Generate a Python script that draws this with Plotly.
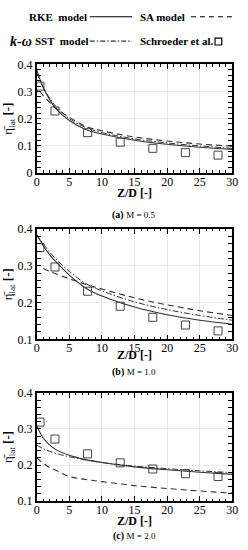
import plotly.graph_objects as go

# ---------------- data ----------------
z_model = [0, 0.5, 1, 2, 3, 5, 7.5, 10, 15, 20, 25, 30]
z_exp = [0.5, 2.8, 7.8, 12.8, 17.8, 22.8, 27.8]

# M = 0.5
rke_a = [0.38, 0.345, 0.315, 0.27, 0.235, 0.193, 0.16, 0.143, 0.12, 0.105, 0.094, 0.086]
sst_a = [0.37, 0.34, 0.315, 0.275, 0.243, 0.2, 0.167, 0.148, 0.125, 0.11, 0.099, 0.09]
z_sa_a = [0.5, 1, 2, 3, 5, 7.5, 10, 15, 20, 25, 30]
sa_a = [0.3, 0.285, 0.26, 0.238, 0.205, 0.172, 0.155, 0.132, 0.117, 0.106, 0.098]
exp_a = [0.32, 0.228, 0.148, 0.113, 0.09, 0.074, 0.065]

# M = 1.0
rke_b = [0.385, 0.37, 0.355, 0.33, 0.31, 0.275, 0.24, 0.218, 0.188, 0.167, 0.152, 0.141]
sst_b = [0.385, 0.372, 0.36, 0.337, 0.318, 0.285, 0.252, 0.232, 0.202, 0.181, 0.165, 0.152]
z_sa_b = [1, 2, 3, 5, 7.5, 10, 15, 20, 25, 30]
sa_b = [0.293, 0.285, 0.278, 0.265, 0.25, 0.237, 0.213, 0.194, 0.178, 0.165]
exp_b = [0.35, 0.297, 0.231, 0.19, 0.16, 0.139, 0.123]

# M = 2.0
rke_c = [0.31, 0.29, 0.275, 0.255, 0.242, 0.227, 0.215, 0.207, 0.195, 0.187, 0.18, 0.174]
sst_c = [0.255, 0.25, 0.245, 0.238, 0.232, 0.223, 0.214, 0.207, 0.197, 0.19, 0.184, 0.179]
sa_c = [0.22, 0.212, 0.205, 0.193, 0.185, 0.168, 0.16, 0.154, 0.143, 0.135, 0.128, 0.122]
exp_c = [0.319, 0.272, 0.231, 0.206, 0.189, 0.176, 0.168]

x_ticks = [0, 5, 10, 15, 20, 25, 30]
captions = ["M = 0.5", "M = 1.0", "M = 2.0"]
letters = ["(a)", "(b)", "(c)"]

# ---------------- figure ----------------
W, H = 248, 550
def py(p):
    return 1 - p / H

SERIF = "Liberation Serif, Times New Roman, serif"
LC = "#333333"

fig = go.Figure()

panels = [
    (z_model, rke_a, sst_a, z_sa_a, sa_a, exp_a, [0, 0.4], [0, 0.1, 0.2, 0.3, 0.4], ["0", "0.1", "0.2", "0.3", "0.4"], (59, 170)),
    (z_model, rke_b, sst_b, z_sa_b, sa_b, exp_b, [0.1, 0.4], [0.1, 0.2, 0.3, 0.4], ["0.1", "0.2", "0.3", "0.4"], (228, 341)),
    (z_model, rke_c, sst_c, z_model, sa_c, exp_c, [0.1, 0.4], [0.1, 0.2, 0.3, 0.4], ["0.1", "0.2", "0.3", "0.4"], (396, 507)),
]
xtitle_y = [191, 357, 527]
cap_y = [213, 375, 543]

xdom = [35 / W, 238 / W]
for i, (zm, rke, sst, zsa, sa, ex, yr, yt, ytl, (top, bot)) in enumerate(panels):
    n = "" if i == 0 else str(i + 1)
    xa, ya = "x" + n, "y" + n
    k = str(i + 4)
    fig.add_trace(go.Scatter(x=zm, y=rke, mode="lines", line=dict(color=LC, width=1.1, shape="spline"),
                             xaxis=xa, yaxis=ya, showlegend=False))
    fig.add_trace(go.Scatter(x=zsa, y=sa, mode="lines", line=dict(color=LC, width=1.1, dash="6px,4px", shape="spline"),
                             xaxis=xa, yaxis=ya, showlegend=False))
    fig.add_trace(go.Scatter(x=zm, y=sst, mode="lines", line=dict(color=LC, width=1.0, dash="6px,2px,1.5px,2px", shape="spline"),
                             xaxis=xa, yaxis=ya, showlegend=False))
    fig.add_trace(go.Scatter(x=z_exp, y=ex, mode="markers",
                             marker=dict(symbol="square-open", size=8, color="#444444", line=dict(width=1)),
                             xaxis=xa, yaxis=ya, showlegend=False))
    # invisible helper trace so the label-carrying overlay axis is drawn
    fig.add_trace(go.Scatter(x=z_exp, y=ex, mode="markers", marker=dict(opacity=0, size=1),
                             hoverinfo="skip", xaxis="x" + k, yaxis=ya, showlegend=False))
    axcommon = dict(showline=True, linecolor="black", linewidth=1.5, mirror="allticks",
                    ticks="inside", ticklen=5, tickcolor="black", tickwidth=1,
                    showgrid=True, gridcolor="#e8e8e8", gridwidth=1, zeroline=False,
                    tickfont=dict(family=SERIF, size=12, color="black"))
    fig.layout["xaxis" + n] = dict(
        domain=xdom, anchor=ya, range=[0, 30], tickvals=x_ticks, showticklabels=False,
        minor=dict(dtick=1, ticks="inside", ticklen=2.5, tickcolor="black", showgrid=False),
        **axcommon)
    # overlay axis carrying the x tick labels, placed so the labels hug the frame
    fig.layout["xaxis" + k] = dict(
        domain=xdom, overlaying=xa, anchor="free", position=py(bot), range=[0, 30],
        tickvals=x_ticks, ticktext=[str(v) for v in x_ticks], showline=False, ticks="",
        showgrid=False, zeroline=False, tickfont=dict(family=SERIF, size=12, color="black"))
    fig.layout["yaxis" + n] = dict(
        domain=[py(bot), py(top)], anchor=xa, range=yr, tickvals=yt, ticktext=ytl,
        minor=dict(dtick=0.02, ticks="inside", ticklen=2.5, tickcolor="black", showgrid=False),
        title=dict(text="η\u0304<sub>lat</sub> <b>[-]</b>", font=dict(family=SERIF, size=13, color="black"), standoff=4),
        **axcommon)
    fig.add_annotation(xref="paper", yref="paper", x=(xdom[0] + xdom[1]) / 2, y=py(xtitle_y[i]),
                       xanchor="center", yanchor="middle", text="<b>Z/D [-]</b>", showarrow=False,
                       font=dict(family=SERIF, size=12, color="black"))
    fig.add_annotation(xref="paper", yref="paper", x=0.55, y=py(cap_y[i]), xanchor="center", yanchor="middle",
                       text="<b>%s</b> <span style='font-size:9px'>%s</span>" % (letters[i], captions[i]),
                       showarrow=False, font=dict(family=SERIF, size=10, color="black"))

# ---------------- legend ----------------
leg_font = dict(family=SERIF, size=11, color="black")
r1, r2 = py(10), py(35)
fig.add_annotation(xref="paper", yref="paper", x=25 / W, y=r1, xanchor="left", yanchor="middle",
                   text="<b>RKE  model</b>", showarrow=False, font=leg_font)
fig.add_annotation(xref="paper", yref="paper", x=140 / W, y=r1, xanchor="left", yanchor="middle",
                   text="<b>SA model</b>", showarrow=False, font=leg_font)
fig.add_annotation(xref="paper", yref="paper", x=5 / W, y=r2, xanchor="left", yanchor="middle",
                   text="<b><i>k-ω</i></b>", showarrow=False, font=dict(family=SERIF, size=14, color="black"))
fig.add_annotation(xref="paper", yref="paper", x=31 / W, y=r2, xanchor="left", yanchor="middle",
                   text="<b>SST  model</b>", showarrow=False, font=leg_font)
fig.add_annotation(xref="paper", yref="paper", x=140 / W, y=r2, xanchor="left", yanchor="middle",
                   text="<b>Schroeder et al.</b>", showarrow=False, font=leg_font)
fig.add_shape(type="line", xref="paper", yref="paper", x0=90 / W, x1=134 / W, y0=r1, y1=r1,
              line=dict(color="black", width=1.2))
fig.add_shape(type="line", xref="paper", yref="paper", x0=195 / W, x1=241 / W, y0=r1, y1=r1,
              line=dict(color="black", width=1.2, dash="5px,4px"))
fig.add_shape(type="line", xref="paper", yref="paper", x0=90 / W, x1=134 / W, y0=r2, y1=r2,
              line=dict(color="black", width=1.0, dash="5px,2px,1.5px,2px"))
fig.add_shape(type="rect", xref="paper", yref="paper", x0=220 / W, x1=227 / W, y0=py(39), y1=py(32),
              line=dict(color="black", width=1.2))

fig.update_layout(width=W, height=H, margin=dict(l=0, r=0, t=0, b=0),
                  paper_bgcolor="white", plot_bgcolor="white", showlegend=False)

fig.write_html("out.html", config={"displayModeBar": False},
               post_script="document.body.style.margin='0';document.body.style.padding='0';"
                           "document.body.style.overflow='hidden';")
